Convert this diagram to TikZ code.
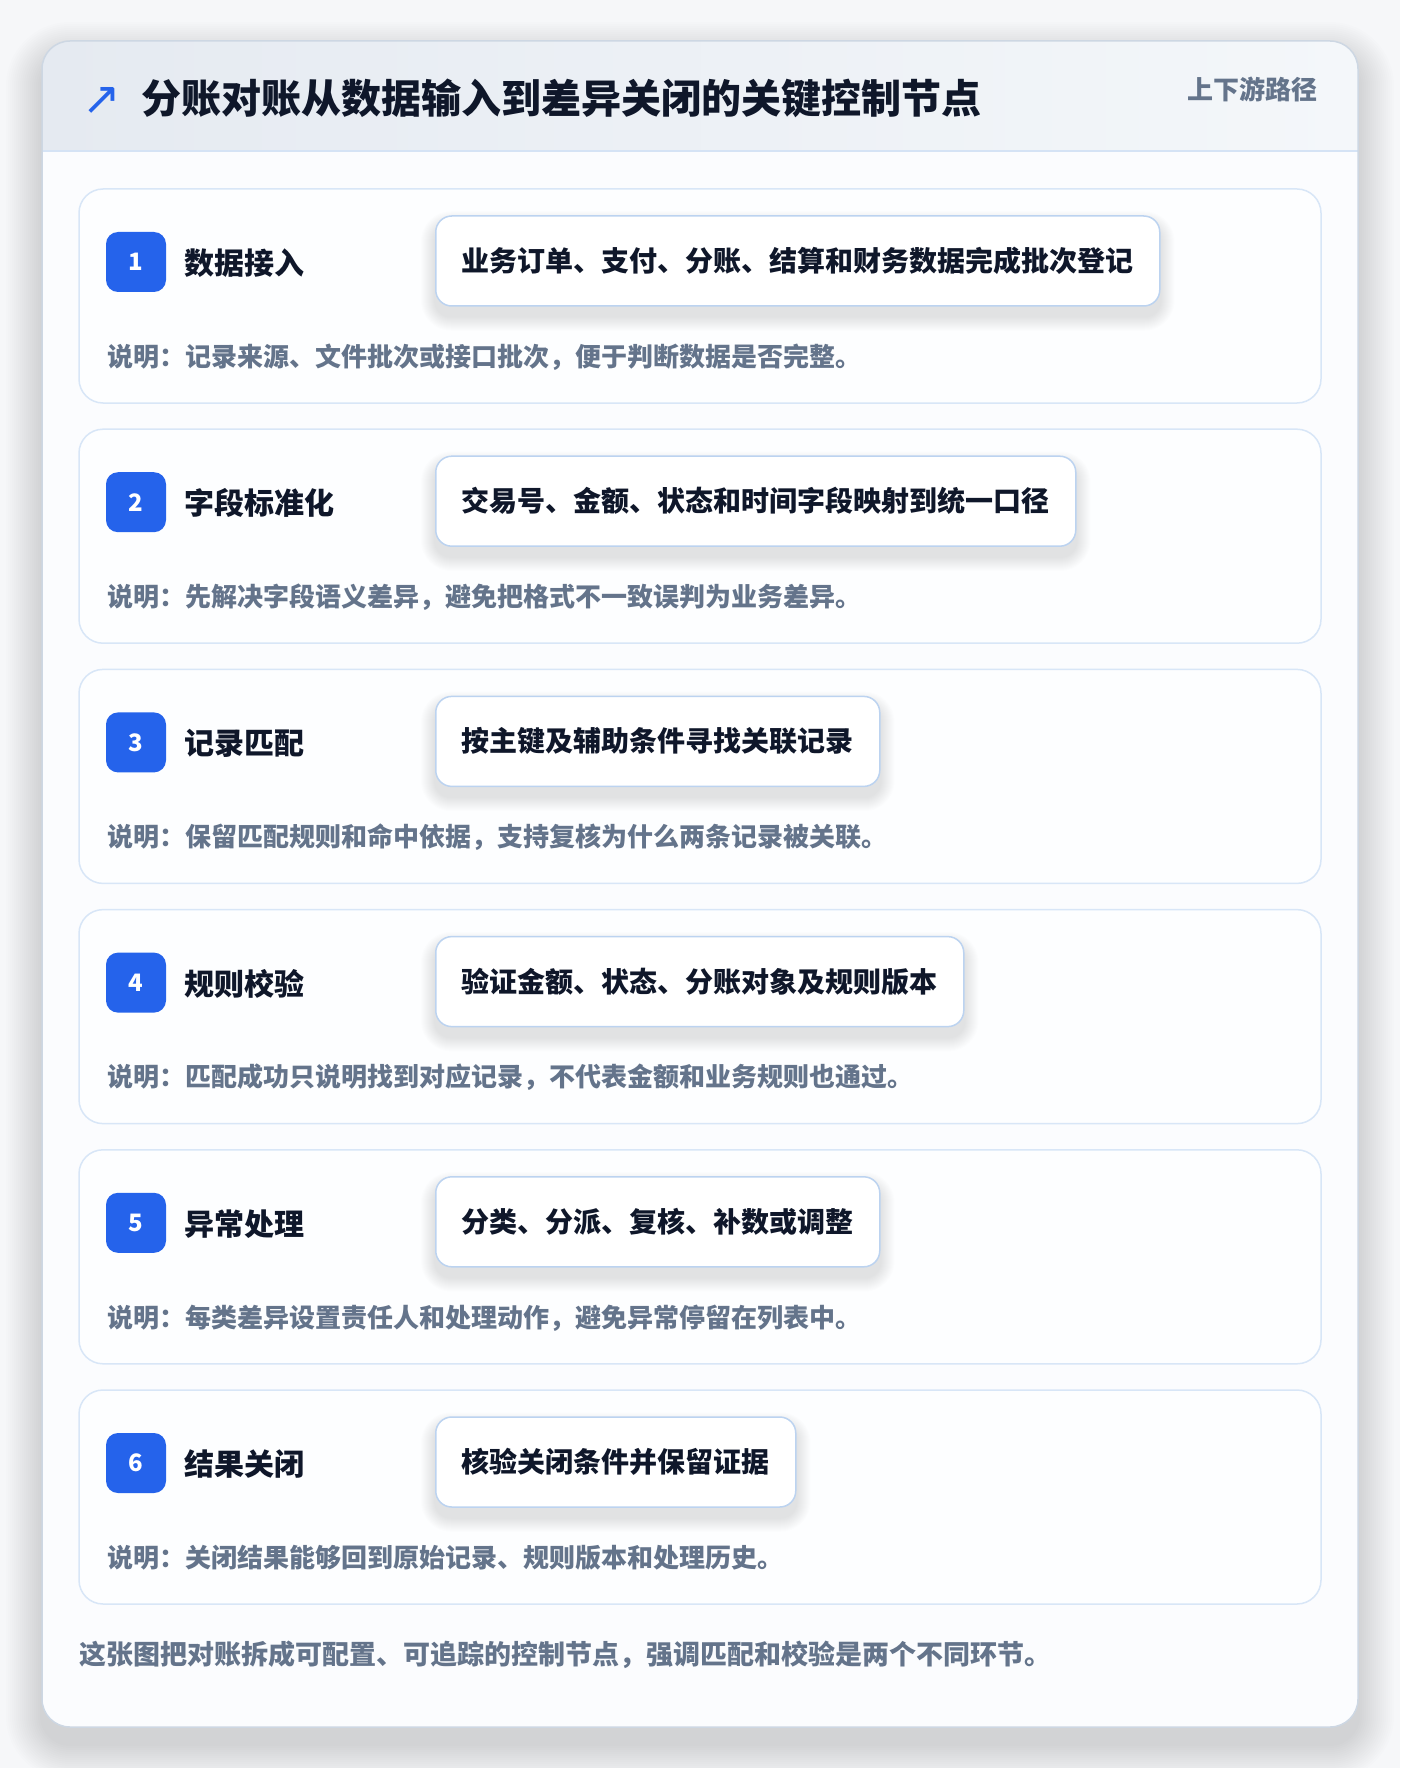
\documentclass[tikz,border=0pt]{standalone}
\usepackage{fontspec}
\setmainfont{Noto Sans CJK SC}
\newfontfamily\symfont{DejaVu Sans}

\definecolor{pagebg}{HTML}{F6F7F9}
\definecolor{cardbg}{HTML}{FBFCFE}
\definecolor{cardline}{HTML}{CDD7E3}
\definecolor{hdrL}{HTML}{E5EAF1}
\definecolor{hdrR}{HTML}{F4F7FA}
\definecolor{hdrline}{HTML}{D5E3F5}
\definecolor{blkline}{HTML}{D8E6F7}
\definecolor{blkbg}{HTML}{FDFEFF}
\definecolor{boxline}{HTML}{BCD3F0}
\definecolor{badgebg}{HTML}{2563EB}
\definecolor{inkc}{HTML}{0F172A}
\definecolor{notec}{HTML}{64748B}
\definecolor{shadowc}{HTML}{1E293B}

\pgfdeclarelayer{front}
\pgfsetlayers{main,front}

\begin{document}
\begin{tikzpicture}[x=1pt,y=-1pt]

\tikzstyle{blk}=[draw=blkline,fill=blkbg,line width=1.5pt,rounded corners=24pt]
\tikzstyle{badge}=[shape=rectangle,rounded corners=12pt,fill=badgebg,text=white,minimum size=60pt,inner sep=0pt,font=\fontsize{24}{24}\selectfont\bfseries]
\tikzstyle{lab}=[anchor=west,inner sep=0pt,text=inkc,font=\fontsize{30}{30}\selectfont\bfseries]
\tikzstyle{cbox}=[anchor=west,draw=boxline,fill=white,line width=1.5pt,rounded corners=16pt,minimum height=90pt,inner xsep=26pt,text=inkc,font=\fontsize{28}{28}\selectfont\bfseries]
\tikzstyle{note}=[anchor=west,inner sep=0pt,text=notec,font=\fontsize{26}{26}\selectfont\bfseries]
\tikzstyle{shd}=[fill=shadowc,opacity=0.009]

\useasboundingbox (0,0) rectangle (1400,1768);
\fill[pagebg] (0,0) rectangle (1400,1768);

% card
\foreach \k in {2,4,...,36}
  \fill[shd,opacity=0.006,rounded corners=28+\k] (42-\k,58-\k) rectangle (1358+\k,1744+\k);
\fill[cardbg,rounded corners=28pt] (42,41) rectangle (1358,1727);
\begin{scope}
\clip[rounded corners=28pt] (42,41) rectangle (1358,1727);
\shade[left color=hdrL,right color=hdrR] (42,41) rectangle (1358,151);
\draw[hdrline,line width=1.5pt] (42,151) -- (1358,151);
\end{scope}
\draw[cardline,line width=1.5pt,rounded corners=28pt] (42,41) rectangle (1358,1727);

% header
\node[text=badgebg,inner sep=0pt,font=\fontsize{46}{46}\selectfont\symfont] (ic) at (102,101) {↗};
\node[anchor=west,inner sep=0pt,text=inkc,font=\fontsize{40}{40}\selectfont\bfseries] (title) at (141,98) {分账对账从数据输入到差异关闭的关键控制节点};
\node[anchor=east,inner sep=0pt,text=notec,font=\fontsize{26}{26}\selectfont\bfseries] (tag) at (1318,89) {上下游路径};

% steps
\foreach \i/\lab/\txt/\nt in {
  1/数据接入/业务订单、支付、分账、结算和财务数据完成批次登记/说明：记录来源、文件批次或接口批次，便于判断数据是否完整。,
  2/字段标准化/交易号、金额、状态和时间字段映射到统一口径/说明：先解决字段语义差异，避免把格式不一致误判为业务差异。,
  3/记录匹配/按主键及辅助条件寻找关联记录/说明：保留匹配规则和命中依据，支持复核为什么两条记录被关联。,
  4/规则校验/验证金额、状态、分账对象及规则版本/说明：匹配成功只说明找到对应记录，不代表金额和业务规则也通过。,
  5/异常处理/分类、分派、复核、补数或调整/说明：每类差异设置责任人和处理动作，避免异常停留在列表中。,
  6/结果关闭/核验关闭条件并保留证据/说明：关闭结果能够回到原始记录、规则版本和处理历史。}
{
  \pgfmathsetmacro{\T}{189+240.2*(\i-1)}
  \draw[blk] (79,\T) rectangle (1321,\T+214);
  \node[badge] (n\i) at (136,\T+73) {\i};
  \node[lab] (l\i) at (184,\T+74) {\lab};
  \begin{pgfonlayer}{front}
  \node[cbox] (c\i) at (435,\T+72) {\txt};
  \end{pgfonlayer}
  \foreach \k in {1,...,14}
    \fill[shd,opacity=0.008,rounded corners=16+\k] ([xshift=-\k pt,yshift=-10pt+\k pt]c\i.north west) rectangle ([xshift=\k pt,yshift=-10pt-\k pt]c\i.south east);
  \node[note] (d\i) at (107,\T+168) {\nt};
}

\node[note,font=\fontsize{27}{27}\selectfont\bfseries] (foot) at (79,1655) {这张图把对账拆成可配置、可追踪的控制节点，强调匹配和校验是两个不同环节。};

\end{tikzpicture}
\end{document}
